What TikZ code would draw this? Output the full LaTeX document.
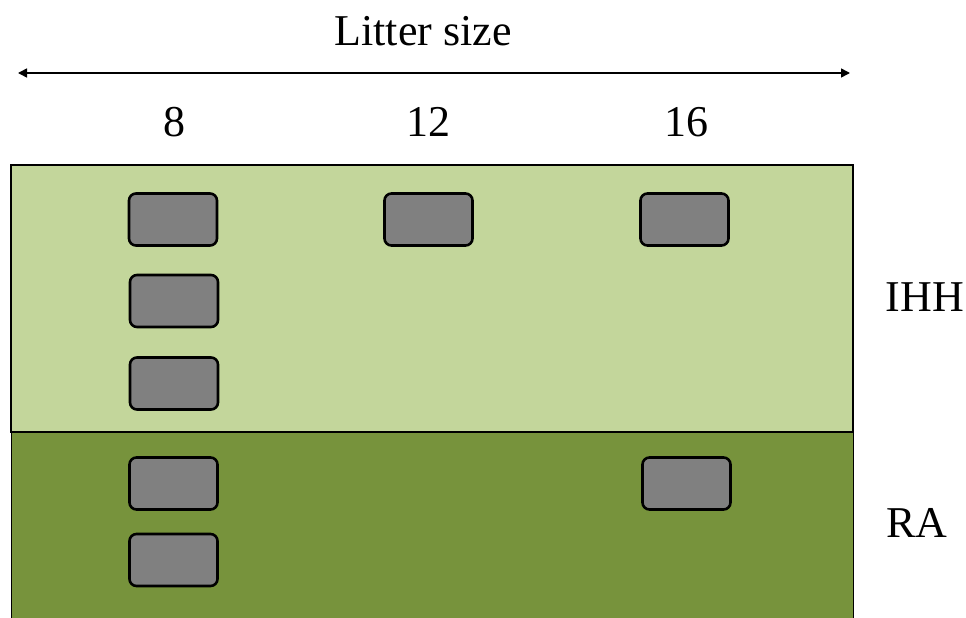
\documentclass[tikz,border=0pt]{standalone}
\usepackage{fontspec}
\setmainfont{Liberation Serif}
\usetikzlibrary{arrows.meta}
\definecolor{lightgreen}{HTML}{C3D69B}
\definecolor{darkgreen}{HTML}{77933C}
\definecolor{boxgray}{HTML}{808080}
\begin{document}
\begin{tikzpicture}[x=1pt,y=-1pt,
  cell/.style={draw=black,line width=2.6pt,fill=boxgray,rounded corners=7pt,
    minimum width=88pt,minimum height=52pt,inner sep=0pt},
  label/.style={font=\fontsize{44}{48}\selectfont,inner sep=0pt}]
\useasboundingbox (0,0) rectangle (966,618);
% panels
\fill[darkgreen] (11,432) rectangle (853,618);
\draw[black,line width=1pt] (11,618) -- (11,432) (853,432) -- (853,618);
\draw[black,line width=2.8pt,fill=lightgreen] (11,165) rectangle (853,432);
% axis
\node[label] (title) at (423,31) {Litter size};
\coordinate (aL) at (18,73);
\coordinate (aR) at (850,73);
\draw[line width=1.6pt,{Triangle[length=9pt,width=9pt]}-{Triangle[length=9pt,width=9pt]}] (aL) -- (aR);
\node[label] (c8) at (174,122) {8};
\node[label] (c12) at (428,122) {12};
\node[label] (c16) at (686,122) {16};
\node[label] (ihh) at (925,297) {IHH};
\node[label] (ra) at (917,523) {RA};
% cells
\node[cell] (b1) at (173,219.5) {};
\node[cell] (b2) at (428.5,219.5) {};
\node[cell] (b3) at (684.5,219.5) {};
\node[cell] (b4) at (174,301) {};
\node[cell] (b5) at (174,383.5) {};
\node[cell] (b6) at (173.5,483.5) {};
\node[cell] (b7) at (686.5,483.5) {};
\node[cell] (b8) at (173.5,560) {};
\end{tikzpicture}
\end{document}
